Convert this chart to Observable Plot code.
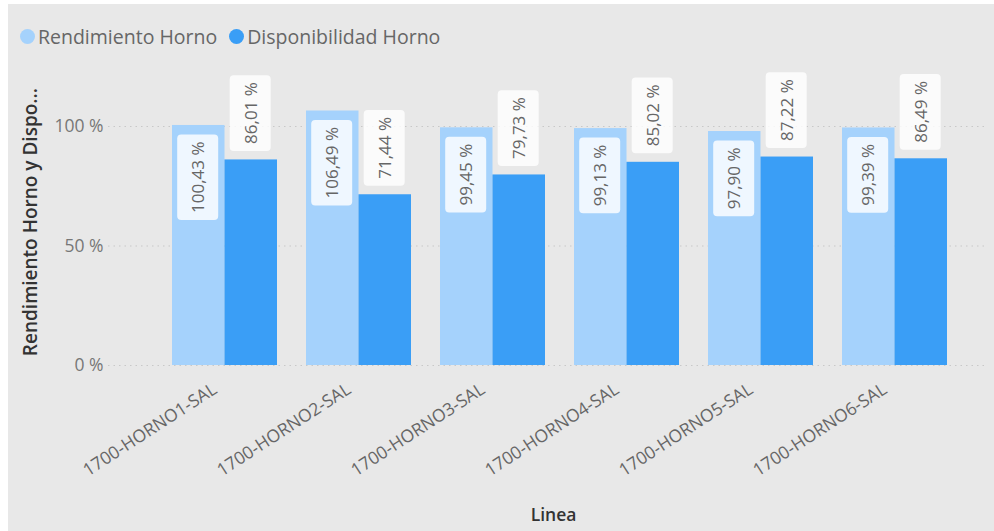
<!DOCTYPE html>
<html>
<head>
<meta charset="utf-8">
<script src="https://cdn.jsdelivr.net/npm/d3@7"></script>
<script src="https://cdn.jsdelivr.net/npm/@observablehq/plot@0.6"></script>
<style>
  html, body { margin: 0; padding: 0; background: #ffffff; }
  #wrap { position: relative; width: 994px; height: 531px; overflow: hidden; font-family: "Open Sans", sans-serif; }
  #bg { position: absolute; left: 8px; top: 4px; right: 0; bottom: 0; background: #e8e8e8; }
  #legend { position: absolute; left: 20px; top: 21px; height: 30px; display: flex; align-items: center; font-size: 19.5px; color: #666; white-space: nowrap; }
  .item { display: flex; align-items: center; margin-right: 12px; }
  .dot { width: 15px; height: 15px; border-radius: 50%; margin-right: 3px; }
  #chart { position: absolute; left: 0; top: 55px; }
</style>
</head>
<body>
<div id="wrap">
  <div id="bg"></div>
  <div id="legend"></div>
  <div id="chart"></div>
</div>
<script>
const categories = ["1700-HORNO1-SAL", "1700-HORNO2-SAL", "1700-HORNO3-SAL", "1700-HORNO4-SAL", "1700-HORNO5-SAL", "1700-HORNO6-SAL"];
const rendimiento = [100.43, 106.49, 99.45, 99.13, 97.90, 99.39];
const disponibilidad = [86.01, 71.44, 79.73, 85.02, 87.22, 86.49];
const seriesNames = ["Rendimiento Horno", "Disponibilidad Horno"];
const seriesColors = ["#a5d2fc", "#3a9ef6"];
const yTicks = [0, 50, 100];
const yTitle = "Rendimiento Horno y Dispo...";
const xTitle = "Linea";

const data = categories.map((c, i) => ({linea: c, rend: rendimiento[i], disp: disponibilidad[i]}));
const fmt = v => v.toFixed(2).replace(".", ",") + " %";

// legend
const legend = document.getElementById("legend");
seriesNames.forEach((name, i) => {
  const it = document.createElement("div");
  it.className = "item";
  it.innerHTML = `<span class="dot" style="background:${seriesColors[i]}"></span><span>${name}</span>`;
  legend.append(it);
});

const W = 994, H = 476, mL = 108, mR = 6, mT = 23.2, mB = 166;
const xOpts = {paddingInner: 0.219, paddingOuter: 0.383, align: 0.607};
const band = d3.scaleBand(categories, [mL, W - mR]).paddingInner(xOpts.paddingInner).paddingOuter(xOpts.paddingOuter).align(xOpts.align);
const bw = band.bandwidth();

const chart = Plot.plot({
  width: W, height: H,
  marginLeft: mL, marginRight: mR, marginTop: mT, marginBottom: mB,
  style: {background: "transparent", fontFamily: "Open Sans, sans-serif", overflow: "visible"},
  x: {domain: categories, ...xOpts, label: null},
  y: {domain: [0, 120], label: null},
  marks: [
    Plot.ruleY(yTicks, {stroke: "#c8c8c8", strokeDasharray: "1.5,4", strokeWidth: 1.2}),
    Plot.barY(data, {x: "linea", y: "rend", fill: seriesColors[0], insetRight: bw / 2}),
    Plot.barY(data, {x: "linea", y: "disp", fill: seriesColors[1], insetLeft: bw / 2}),
    Plot.axisY({ticks: yTicks, tickFormat: d => d + " %", tickSize: 0, tickPadding: 5, fontSize: 17.5, fill: "#777", label: null}),
    Plot.axisX({tickRotate: -33, tickSize: 0, tickPadding: 22, dx: -10, fontSize: 17.5, fill: "#666", label: null}),
    Plot.text(data, {x: "linea", y: "rend", text: d => fmt(d.rend), rotate: -90, textAnchor: "end", dx: -bw / 4, dy: 16, fontSize: 17, fill: "#666"}),
    Plot.text(data, {x: "linea", y: "disp", text: d => fmt(d.disp), rotate: -90, textAnchor: "start", dx: bw / 4, dy: -16, fontSize: 17, fill: "#666"}),
    Plot.text([yTitle], {frameAnchor: "left", textAnchor: "middle", rotate: -90, dx: -78, fontSize: 19, fontWeight: 600, fill: "#333"}),
    Plot.text([xTitle], {frameAnchor: "bottom", textAnchor: "middle", dx: 5, dy: 155, fontSize: 17.5, fontWeight: 600, fill: "#333"})
  ]
});
document.getElementById("chart").append(chart);

// label boxes behind the data labels (texts like "86,01 %")
const labelPattern = /^\d+,\d\d %$/;
Array.from(chart.querySelectorAll("text"))
  .filter(t => labelPattern.test(t.textContent.trim()))
  .forEach(t => {
    const b = t.getBBox();
    const r = document.createElementNS("http://www.w3.org/2000/svg", "rect");
    const px = 7, py = 10;
    r.setAttribute("x", b.x - px);
    r.setAttribute("y", b.y - py + 1);
    r.setAttribute("width", b.width + 2 * px);
    r.setAttribute("height", b.height + 2 * py - 2);
    r.setAttribute("rx", 4);
    r.setAttribute("fill", "#ffffff");
    r.setAttribute("fill-opacity", 0.82);
    r.setAttribute("stroke", "none");
    const tr = t.getAttribute("transform");
    if (tr) r.setAttribute("transform", tr);
    t.parentNode.insertBefore(r, t);
  });
</script>
</body>
</html>
